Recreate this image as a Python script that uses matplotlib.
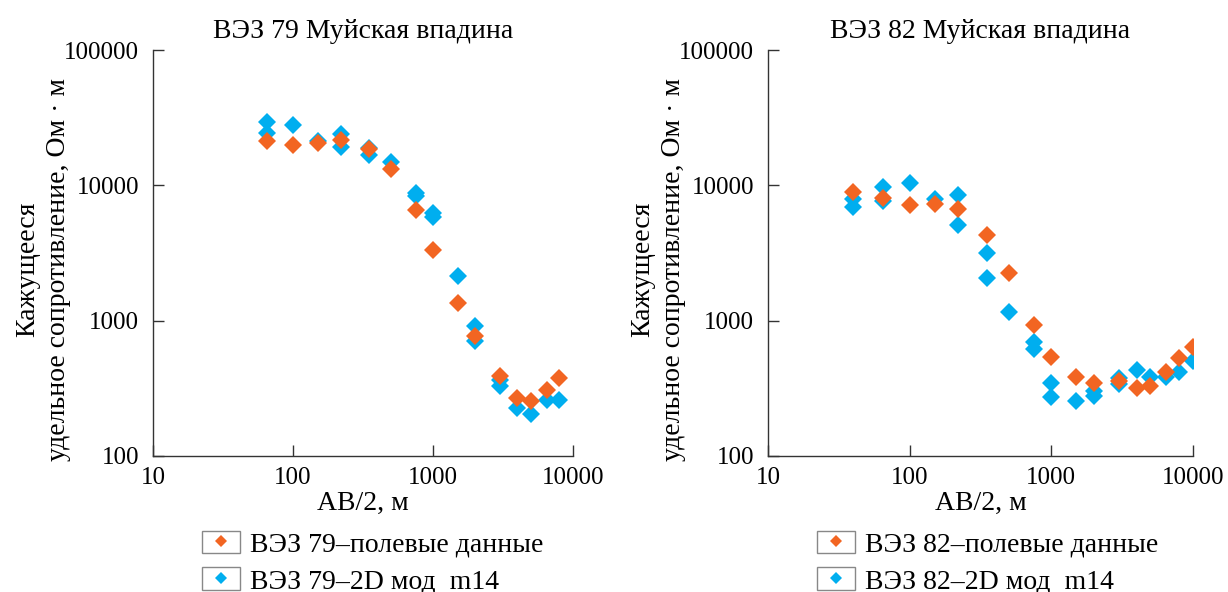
import matplotlib
matplotlib.use("Agg")
import matplotlib.pyplot as plt
from matplotlib.lines import Line2D
from matplotlib.patches import Rectangle
from matplotlib.ticker import FixedLocator, FixedFormatter

# VES 79 - field data
ves79_field_ab = [65, 100, 150, 220, 350, 500, 750, 1000, 1500, 2000, 3000, 4000, 5000, 6500, 8000]
ves79_field_rho = [21200, 19900, 20600, 21600, 18700, 13100, 6600, 3350, 1340, 767, 391, 270, 256, 305, 378]

# VES 79 - 2D model m14
ves79_model_ab = [65, 65, 100, 150, 220, 220, 350, 350, 500, 750, 750, 1000, 1000, 1500,
                  2000, 2000, 3000, 3000, 4000, 5000, 6500, 8000]
ves79_model_rho = [29300, 24500, 27900, 21200, 24100, 19300, 19000, 16700, 14900, 8800, 8400,
                   6200, 5800, 2140, 915, 702, 365, 327, 226, 203, 260, 260]

# VES 82 - field data
ves82_field_ab = [40, 65, 100, 150, 220, 350, 500, 750, 1000, 1500, 2000, 3000, 4000, 5000, 6500, 8000, 10000]
ves82_field_rho = [8900, 8100, 7100, 7300, 6700, 4330, 2250, 930, 542, 385, 344, 357, 320, 331, 420, 527, 635]

# VES 82 - 2D model m14
ves82_model_ab = [40, 40, 65, 65, 100, 150, 220, 220, 350, 350, 500, 750, 750, 1000, 1000,
                  1500, 2000, 2000, 3000, 3000, 4000, 5000, 6500, 8000, 10000]
ves82_model_rho = [7960, 6950, 9780, 7640, 10350, 7870, 8470, 5130, 3160, 2080, 1150, 692, 617,
                   348, 272, 255, 304, 279, 379, 339, 432, 385, 382, 420, 506]

decades = [10, 100, 1000, 10000, 100000]
decade_labels = ["10", "100", "1000", "10000", "100000"]

ORANGE = "#F26522"
BLUE = "#00AEEF"
AXCOL = "#333333"

plt.rcParams["font.family"] = ["Liberation Serif", "DejaVu Serif"]
plt.rcParams["font.size"] = 20

fig = plt.figure(figsize=(12.28, 5.92), dpi=100)
ax1 = fig.add_axes([153 / 1228, 1 - 456 / 592, (573 - 153) / 1228, (456 - 50) / 592])
ax2 = fig.add_axes([768 / 1228, 1 - 456 / 592, (1193 - 768) / 1228, (456 - 50) / 592])

panels = [
    (ax1, "ВЭЗ 79", ves79_field_ab, ves79_field_rho, ves79_model_ab, ves79_model_rho),
    (ax2, "ВЭЗ 82", ves82_field_ab, ves82_field_rho, ves82_model_ab, ves82_model_rho),
]

for ax, name, fab, frho, mab, mrho in panels:
    ax.plot(mab, mrho, linestyle="none", marker="D", markersize=9, color=BLUE, markeredgewidth=0)
    ax.plot(fab, frho, linestyle="none", marker="D", markersize=9, color=ORANGE, markeredgewidth=0)
    ax.set_xscale("log")
    ax.set_yscale("log")
    ax.set_xlim(10, 10000)
    ax.set_ylim(100, 100000)
    ax.xaxis.set_major_locator(FixedLocator(decades[:4]))
    ax.xaxis.set_major_formatter(FixedFormatter(decade_labels[:4]))
    ax.yaxis.set_major_locator(FixedLocator(decades[1:]))
    ax.yaxis.set_major_formatter(FixedFormatter(decade_labels[1:]))
    ax.minorticks_off()
    ax.tick_params(direction="in", length=8, width=1, color=AXCOL, labelsize=18)
    ax.tick_params(axis="y", pad=10)
    ax.tick_params(axis="x", pad=8)
    for side in ["top", "right"]:
        ax.spines[side].set_visible(False)
    for side in ["left", "bottom"]:
        ax.spines[side].set_color(AXCOL)
        ax.spines[side].set_linewidth(1)
    ax.set_title(name + " Муйская впадина", fontsize=20, pad=9)
    ax.set_xlabel("АВ/2, м", fontsize=20, labelpad=1)
    ax.set_ylabel("Кажущееся\nудельное сопротивление, Ом · м", fontsize=20,
                  multialignment="center", linespacing=1.3)
    w = ax.get_position().width * 1228
    ax.yaxis.set_label_coords(-82 / w, 0.46)

    box = Rectangle((0, 0), 1, 1, facecolor="white", edgecolor="#888888", linewidth=1)
    h_field = Line2D([], [], linestyle="none", marker="D", markersize=6, color=ORANGE, markeredgewidth=0)
    h_model = Line2D([], [], linestyle="none", marker="D", markersize=6, color=BLUE, markeredgewidth=0)
    x0 = ax.get_position().x0
    fig.legend([(box, h_field), (box, h_model)],
               [name + "–полевые данные", name + "–2D мод  m14"],
               loc="upper left", bbox_to_anchor=(x0 + 49 / 1228, 1 - 531 / 592),
               frameon=False, fontsize=20, borderpad=0, borderaxespad=0,
               handlelength=1.37, handleheight=0.86, handletextpad=0.36, labelspacing=0.35)

fig.savefig("out.png", dpi=100)
